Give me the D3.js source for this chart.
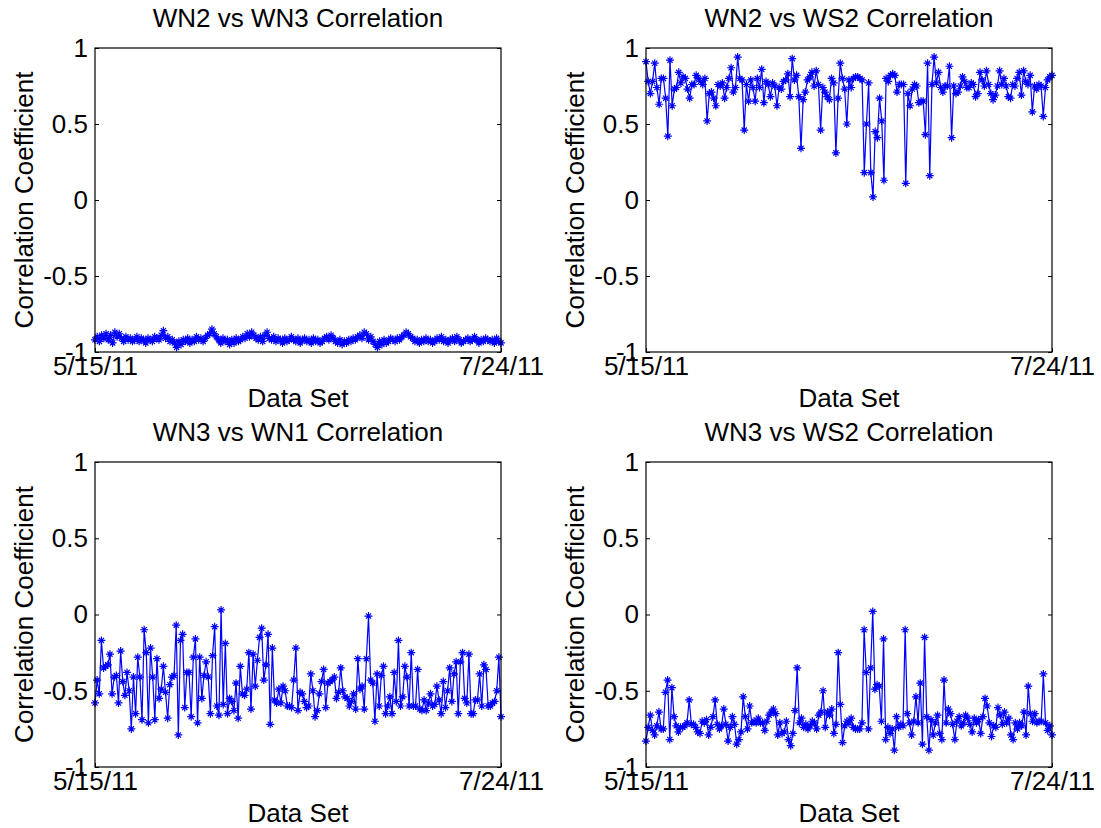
<!DOCTYPE html>
<html><head><meta charset="utf-8">
<script src="https://cdn.jsdelivr.net/npm/d3@7"></script>
<style>
body{margin:0;background:#fff}
text{font-family:"Liberation Sans",Arial,sans-serif;fill:#000}
</style></head>
<body><svg id="chart" width="1101" height="828"></svg>
<script>
// ---------- data ----------
const titles = ["WN2 vs WN3 Correlation","WN2 vs WS2 Correlation","WN3 vs WN1 Correlation","WN3 vs WS2 Correlation"];
const xTickLabels = ["5/15/11","7/24/11"];
const yTickValues = [-1,-0.5,0,0.5,1];
const xLabel = "Data Set";
const yLabel = "Correlation Coefficient";

const wn2wn3 = [
-0.92,-0.90,-0.93,-0.89,-0.91,-0.88,-0.92,-0.89,-0.94,-0.87,
-0.90,-0.88,-0.91,-0.93,-0.90,-0.92,-0.91,-0.93,-0.92,-0.90,
-0.93,-0.91,-0.92,-0.94,-0.91,-0.92,-0.93,-0.90,-0.91,-0.92,
-0.89,-0.86,-0.91,-0.90,-0.93,-0.92,-0.94,-0.97,-0.93,-0.95,
-0.92,-0.93,-0.91,-0.94,-0.92,-0.93,-0.90,-0.92,-0.91,-0.93,
-0.91,-0.89,-0.88,-0.85,-0.88,-0.90,-0.92,-0.94,-0.91,-0.93,
-0.92,-0.95,-0.92,-0.94,-0.91,-0.93,-0.92,-0.90,-0.91,-0.88,
-0.90,-0.87,-0.89,-0.91,-0.92,-0.90,-0.93,-0.89,-0.87,-0.91,
-0.92,-0.90,-0.93,-0.91,-0.92,-0.94,-0.91,-0.93,-0.92,-0.90,
-0.92,-0.93,-0.91,-0.94,-0.92,-0.91,-0.93,-0.92,-0.94,-0.91,
-0.93,-0.92,-0.94,-0.93,-0.91,-0.90,-0.92,-0.89,-0.91,-0.93,
-0.94,-0.92,-0.95,-0.93,-0.94,-0.92,-0.93,-0.91,-0.92,-0.90,
-0.89,-0.91,-0.87,-0.88,-0.92,-0.90,-0.93,-0.95,-0.97,-0.93,
-0.95,-0.92,-0.94,-0.93,-0.91,-0.92,-0.93,-0.91,-0.92,-0.90,
-0.89,-0.87,-0.88,-0.90,-0.91,-0.93,-0.92,-0.94,-0.92,-0.93,
-0.91,-0.93,-0.92,-0.94,-0.93,-0.91,-0.92,-0.90,-0.93,-0.92,
-0.94,-0.92,-0.91,-0.93,-0.90,-0.92,-0.94,-0.93,-0.92,-0.91,
-0.93,-0.92,-0.90,-0.92,-0.94,-0.92,-0.93,-0.91,-0.92,-0.93,
-0.92,-0.94,-0.91,-0.93,-0.94];

const wn2ws2 = [
0.91,0.78,0.70,0.78,0.90,0.74,0.63,0.80,0.80,0.67,0.42,0.92,0.62,0.73,0.74,0.84,0.77,0.81,0.80,0.73,
0.67,0.76,0.76,0.82,0.80,0.78,0.76,0.80,0.52,0.70,0.71,0.67,0.62,0.76,0.75,0.77,0.67,0.74,0.80,0.87,
0.71,0.74,0.94,0.80,0.79,0.46,0.76,0.65,
0.79,0.74,0.65,0.80,0.74,0.86,0.64,0.78,0.76,0.68,0.77,0.75,0.62,0.74,0.73,0.78,0.79,0.83,0.68,0.93,
0.79,0.82,0.68,0.34,0.66,0.71,0.79,0.81,0.84,0.75,0.85,0.76,0.46,0.74,0.71,0.68,0.66,0.80,0.77,0.31,
0.67,0.90,0.80,0.73,0.50,0.79,0.74,
0.80,0.81,0.81,0.80,0.79,0.18,0.50,0.77,0.18,0.02,0.45,0.41,0.67,0.52,0.13,0.80,0.78,0.82,0.83,0.82,
0.71,0.76,0.76,0.76,0.11,0.70,0.62,0.73,0.76,0.75,0.64,0.65,0.65,0.43,0.90,0.16,0.76,0.94,0.77,0.84,
0.74,0.71,0.75,0.75,0.88,0.41,0.75,0.70,0.71,0.75,0.81,0.78,0.74,
0.74,0.77,0.76,0.68,0.70,0.84,0.79,0.75,0.85,0.76,0.70,0.66,0.69,0.75,0.85,0.76,0.80,0.75,0.68,0.67,
0.76,0.75,0.80,0.84,0.69,0.85,0.78,0.76,0.82,0.58,0.75,0.73,0.76,0.75,0.55,0.74,0.79,0.81,0.82];

const wn3wn1 = [
-0.58,-0.43,-0.52,-0.17,-0.35,-0.34,-0.33,-0.26,-0.52,-0.41,-0.40,-0.58,-0.24,-0.44,-0.53,-0.38,-0.50,-0.75,-0.41,-0.65,
-0.28,-0.41,-0.69,-0.10,-0.25,-0.71,-0.22,-0.41,-0.69,-0.29,-0.55,-0.49,-0.34,-0.51,-0.68,-0.46,-0.41,-0.40,-0.07,-0.79,
-0.17,-0.13,-0.61,-0.38,-0.38,-0.67,-0.28,-0.16,-0.71,-0.28,-0.55,-0.40,-0.31,-0.41,-0.65,-0.27,-0.08,-0.60,-0.66,0.03,
-0.59,-0.19,-0.65,-0.55,-0.57,-0.63,-0.45,-0.68,-0.34,-0.52,-0.53,-0.49,-0.25,-0.62,-0.26,-0.47,-0.30,-0.15,-0.09,-0.43,
-0.33,-0.13,-0.72,-0.22,-0.56,-0.58,-0.49,-0.58,-0.47,-0.50,-0.60,-0.60,-0.61,-0.43,-0.22,-0.63,-0.51,
-0.52,-0.57,-0.61,-0.60,-0.39,-0.50,-0.67,-0.63,-0.52,-0.44,-0.36,-0.61,-0.45,-0.44,-0.43,-0.41,-0.55,-0.51,-0.35,-0.50,
-0.54,-0.55,-0.60,-0.57,-0.52,-0.62,-0.29,-0.49,-0.47,-0.62,-0.29,-0.01,-0.43,-0.45,-0.70,-0.39,-0.60,-0.40,-0.34,-0.65,
-0.60,-0.54,-0.65,-0.38,-0.57,-0.17,-0.60,-0.54,-0.34,-0.41,-0.60,-0.25,-0.60,-0.60,-0.36,-0.62,-0.63,-0.56,-0.63,-0.58,
-0.52,-0.60,-0.59,-0.47,-0.56,-0.65,-0.44,-0.61,-0.50,-0.35,-0.57,-0.39,-0.31,-0.65,-0.31,-0.25,-0.55,-0.58,-0.26,-0.65,
-0.65,-0.56,-0.56,-0.39,-0.60,-0.33,-0.36,-0.60,-0.60,-0.58,-0.57,-0.50,-0.28,-0.67];

const wn3ws2 = [
-0.83,-0.74,-0.66,-0.76,-0.79,-0.73,-0.64,-0.75,-0.75,-0.51,-0.43,-0.82,-0.48,-0.67,-0.73,-0.77,-0.74,-0.74,-0.73,-0.71,
-0.56,-0.72,-0.72,-0.74,-0.77,-0.78,-0.70,-0.71,-0.69,-0.79,-0.74,-0.67,-0.56,-0.72,-0.75,-0.73,-0.62,-0.72,-0.83,-0.74,
-0.67,-0.72,-0.85,-0.82,-0.77,-0.54,-0.67,-0.75,-0.60,-0.71,-0.70,-0.71,-0.68,-0.71,-0.71,-0.76,-0.70,-0.66,-0.64,-0.62,
-0.65,-0.79,-0.71,-0.78,-0.77,-0.70,-0.82,-0.86,-0.78,-0.63,-0.35,
-0.71,-0.68,-0.74,-0.72,-0.75,-0.73,-0.70,-0.71,-0.75,-0.66,-0.64,-0.50,-0.74,-0.64,-0.66,-0.62,-0.78,-0.72,-0.25,-0.59,
-0.84,-0.73,-0.70,-0.71,-0.68,-0.74,-0.75,-0.75,-0.75,-0.71,-0.10,-0.38,-0.75,-0.35,0.02,-0.49,-0.46,-0.47,-0.70,-0.16,
-0.82,-0.74,-0.78,-0.75,-0.89,-0.67,-0.74,-0.72,-0.73,-0.10,-0.65,-0.71,-0.79,-0.70,-0.54,-0.71,-0.45,-0.85,-0.15,-0.67,
-0.89,-0.69,-0.79,-0.71,-0.66,-0.78,-0.82,-0.43,-0.71,-0.62,-0.65,-0.72,-0.82,-0.70,-0.67,-0.73,-0.71,-0.66,-0.68,-0.72,
-0.77,-0.68,-0.71,-0.69,-0.78,-0.67,-0.55,-0.60,-0.71,-0.80,-0.73,-0.74,-0.61,-0.66,-0.72,-0.64,-0.71,-0.68,-0.79,-0.82,
-0.71,-0.75,-0.71,-0.73,-0.64,-0.79,-0.47,-0.65,-0.70,-0.65,-0.71,-0.70,-0.70,-0.39,-0.71,-0.76,-0.73,-0.79];

const series = [wn2wn3, wn2ws2, wn3wn1, wn3ws2];

// ---------- layout ----------
const boxes = [
  {l:95,  r:501,  t:48,  b:352},
  {l:646, r:1052, t:48,  b:352},
  {l:95,  r:501,  t:462, b:767},
  {l:646, r:1052, t:462, b:767}
];
const FS = 26;
const blue = "#0000ff";
const svg = d3.select("#chart");
svg.append("rect").attr("width",1101).attr("height",828).attr("fill","#fff");

const star = "M-4,0H4M0,-4V4M-2.6,-2.6L2.6,2.6M-2.6,2.6L2.6,-2.6";

series.forEach((data, k) => {
  const bx = boxes[k];
  const x = d3.scaleLinear().domain([0, data.length-1]).range([bx.l, bx.r]);
  const y = d3.scaleLinear().domain([-1, 1]).range([bx.b, bx.t]);
  const g = svg.append("g");

  // axes
  const ya = d3.axisLeft(y).tickValues(yTickValues).tickSize(-4).tickPadding(7).tickFormat(d => String(d));
  const gy = g.append("g").attr("transform",`translate(${bx.l},0)`).call(ya);
  const yr = d3.axisRight(y).tickValues(yTickValues).tickSize(-4).tickFormat("");
  const gyr = g.append("g").attr("transform",`translate(${bx.r},0)`).call(yr);
  const xa = d3.axisBottom(x).tickValues([0, data.length-1]).tickSize(-4).tickPadding(5)
      .tickFormat((d,i) => xTickLabels[i]);
  const gx = g.append("g").attr("transform",`translate(0,${bx.b})`).call(xa);
  [gy,gyr,gx].forEach(a => {
    a.select(".domain").remove();
    a.selectAll("line").attr("stroke","#000");
    a.selectAll("text").attr("font-size",FS).attr("font-family","'Liberation Sans',Arial,sans-serif").attr("fill","#000");
  });

  // line
  const line = d3.line().x((d,i) => x(i)).y(d => y(d));
  g.append("path").datum(data).attr("d", line).attr("fill","none")
    .attr("stroke", blue).attr("stroke-width",1.2);
  g.selectAll("path.m").data(data).join("path").attr("class","m")
    .attr("transform",(d,i) => `translate(${x(i)},${y(d)})`)
    .attr("d", star).attr("stroke", blue).attr("stroke-width",1.2).attr("fill","none");

  // box
  g.append("rect").attr("x",bx.l).attr("y",bx.t).attr("width",bx.r-bx.l).attr("height",bx.b-bx.t)
    .attr("fill","none").attr("stroke","#000").attr("stroke-width",1.2);

  // labels
  g.append("text").attr("x",(bx.l+bx.r)/2).attr("y",bx.t-21).attr("text-anchor","middle")
    .attr("font-size",FS).text(titles[k]);
  g.append("text").attr("x",(bx.l+bx.r)/2).attr("y",bx.b+55).attr("text-anchor","middle")
    .attr("font-size",FS).text(xLabel);
  g.append("text").attr("transform",`translate(${bx.l-62},${(bx.t+bx.b)/2}) rotate(-90)`)
    .attr("text-anchor","middle").attr("font-size",FS).text(yLabel);
});
</script></body></html>
